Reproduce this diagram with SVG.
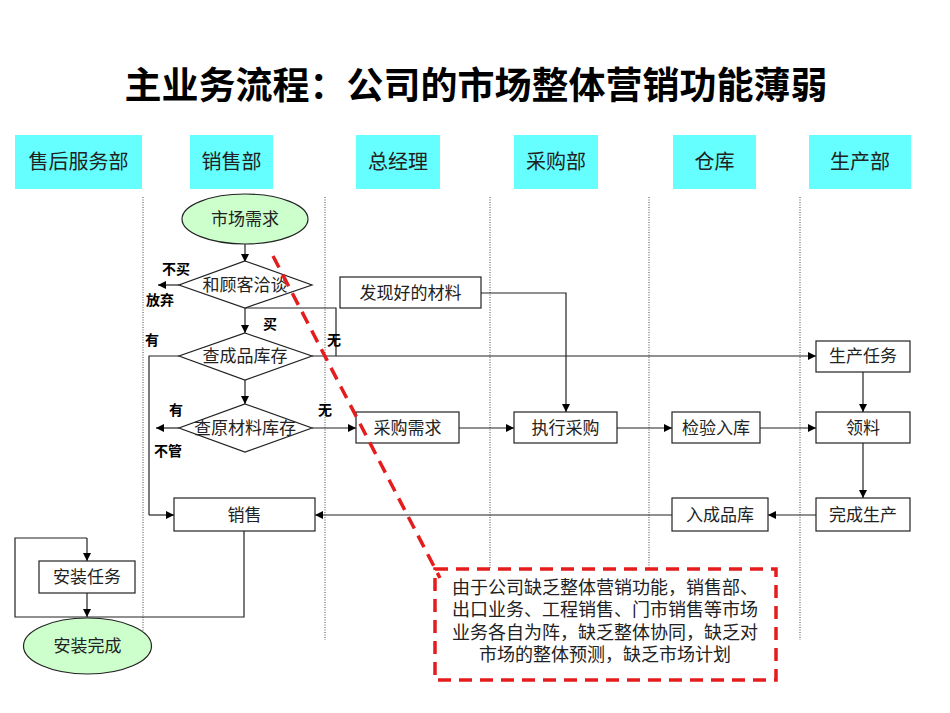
<svg xmlns="http://www.w3.org/2000/svg" width="950" height="713" viewBox="0 0 950 713">
<defs>
<marker id="ah" viewBox="0 0 10 10" refX="10" refY="5" markerWidth="8" markerHeight="8" markerUnits="userSpaceOnUse" orient="auto"><path d="M0,0 L10,5 L0,10 z" fill="#000"/></marker>
<style>
.t{font-family:"Liberation Serif","Noto Sans CJK SC",serif;fill:#222;text-anchor:middle;dominant-baseline:central}
.h{font-size:20px}
.n{font-size:17px}
.lb{font-family:"Liberation Sans","Noto Sans CJK SC",sans-serif;font-size:14px;font-weight:bold;fill:#000;text-anchor:middle;dominant-baseline:central}
.hd{fill:#66ffff}
.box{fill:#fff;stroke:#222;stroke-width:1.2}
.ell{fill:#ccffcc;stroke:#222;stroke-width:1.2}
.lane{stroke:#444;stroke-width:1;stroke-dasharray:1,1.5;fill:none}
.c{fill:none;stroke:#222;stroke-width:1.2}
.ca{fill:none;stroke:#222;stroke-width:1.2;marker-end:url(#ah)}
.red{fill:none;stroke:#e51c1c;stroke-width:3.5;stroke-dasharray:13,8}
</style>
</defs>
<rect width="950" height="713" fill="#fff"/>
<text x="476" y="86" font-family="Liberation Sans,'Noto Sans CJK SC',sans-serif" font-size="37" font-weight="bold" text-anchor="middle" dominant-baseline="central" fill="#000">主业务流程：公司的市场整体营销功能薄弱</text>

<g id="headers">
<g id="h1"><rect class="hd" x="15" y="135" width="127" height="54"/><text class="t h" x="78.5" y="162">售后服务部</text></g>
<g id="h2"><rect class="hd" x="190" y="135" width="83" height="54"/><text class="t h" x="231.5" y="162">销售部</text></g>
<g id="h3"><rect class="hd" x="356" y="135" width="84" height="54"/><text class="t h" x="398" y="162">总经理</text></g>
<g id="h4"><rect class="hd" x="514" y="135" width="84" height="54"/><text class="t h" x="556" y="162">采购部</text></g>
<g id="h5"><rect class="hd" x="673" y="135" width="83" height="54"/><text class="t h" x="714.5" y="162">仓库</text></g>
<g id="h6"><rect class="hd" x="809" y="135" width="102" height="54"/><text class="t h" x="860" y="162">生产部</text></g>
</g>

<g id="lanes">
<line class="lane" x1="143" y1="197" x2="143" y2="632"/>
<line class="lane" x1="325" y1="197" x2="325" y2="640"/>
<line class="lane" x1="490" y1="197" x2="490" y2="568"/>
<line class="lane" x1="649" y1="197" x2="649" y2="568"/>
<line class="lane" x1="800" y1="197" x2="800" y2="640"/>
</g>

<g id="connectors">
<path class="ca" d="M245,244 V262"/>
<path class="ca" d="M179,285 H158"/>
<path class="ca" d="M245,308 V333"/>
<path class="c" d="M245,308 H336 V356"/>
<path class="c" d="M179,356 H149 V515"/>
<path class="ca" d="M149,515 H174"/>
<path class="ca" d="M312,356 H816"/>
<path class="ca" d="M245,380 V404"/>
<path class="ca" d="M179,428 H156"/>
<path class="ca" d="M312,428 H356"/>
<path class="ca" d="M481,293 H566 V412"/>
<path class="ca" d="M459,428 H514"/>
<path class="ca" d="M617,428 H672"/>
<path class="ca" d="M760,428 H816"/>
<path class="ca" d="M863,372 V412"/>
<path class="ca" d="M863,443 V498"/>
<path class="ca" d="M816,515 H768"/>
<path class="ca" d="M672,515 H315"/>
<path class="c" d="M244,531 V617 H15 V538 H87"/>
<path class="ca" d="M87,538 V561"/>
<path class="ca" d="M87,593 V617"/>
</g>

<g id="labels">
<text class="lb" x="176" y="269">不买</text>
<text class="lb" x="160" y="300">放弃</text>
<text class="lb" x="270" y="324">买</text>
<text class="lb" x="334" y="340">无</text>
<text class="lb" x="152" y="340">有</text>
<text class="lb" x="176" y="410">有</text>
<text class="lb" x="325" y="410">无</text>
<text class="lb" x="168" y="451">不管</text>
</g>

<g id="n_market"><ellipse class="ell" cx="245" cy="219" rx="63" ry="25"/><text class="t n" x="245" y="219">市场需求</text></g>
<g id="n_negotiate"><polygon class="box" points="245,261 312,285 245,308 179,285"/><text class="t n" x="245" y="285">和顾客洽谈</text></g>
<g id="n_checkprod"><polygon class="box" points="245,333 312,356 245,380 179,356"/><text class="t n" x="245" y="356">查成品库存</text></g>
<g id="n_checkraw"><polygon class="box" points="245,404 312,428 245,452 179,428"/><text class="t n" x="245" y="428">查原材料库存</text></g>
<g id="n_found"><rect class="box" x="340" y="277" width="141" height="31"/><text class="t n" x="410.5" y="293">发现好的材料</text></g>
<g id="n_purreq"><rect class="box" x="356" y="412" width="103" height="31"/><text class="t n" x="407.5" y="428">采购需求</text></g>
<g id="n_purexec"><rect class="box" x="514" y="412" width="103" height="31"/><text class="t n" x="565.5" y="428">执行采购</text></g>
<g id="n_inspect"><rect class="box" x="672" y="412" width="88" height="31"/><text class="t n" x="716" y="428">检验入库</text></g>
<g id="n_prodtask"><rect class="box" x="816" y="341" width="94" height="31"/><text class="t n" x="863" y="356.5">生产任务</text></g>
<g id="n_material"><rect class="box" x="816" y="412" width="94" height="31"/><text class="t n" x="863" y="428">领料</text></g>
<g id="n_finish"><rect class="box" x="816" y="498" width="94" height="33"/><text class="t n" x="863" y="515">完成生产</text></g>
<g id="n_store"><rect class="box" x="672" y="498" width="96" height="33"/><text class="t n" x="720" y="515">入成品库</text></g>
<g id="n_sale"><rect class="box" x="174" y="498" width="141" height="33"/><text class="t n" x="244.5" y="515">销售</text></g>
<g id="n_install"><rect class="box" x="39" y="561" width="96" height="32"/><text class="t n" x="87" y="577">安装任务</text></g>
<g id="n_done"><ellipse class="ell" cx="87.5" cy="646" rx="64" ry="28"/><text class="t n" x="87.5" y="646">安装完成</text></g>

<g id="callout">
<line class="red" x1="273" y1="256" x2="440" y2="578"/>
<rect class="red" x="435" y="569" width="341" height="111" fill="#fff"/>
<text class="t" font-size="18" x="605" y="588">由于公司缺乏整体营销功能，销售部、</text>
<text class="t" font-size="18" x="605" y="610">出口业务、工程销售、门市销售等市场</text>
<text class="t" font-size="18" x="605" y="633">业务各自为阵，缺乏整体协同，缺乏对</text>
<text class="t" font-size="18" x="605" y="655">市场的整体预测，缺乏市场计划</text>
</g>
</svg>
